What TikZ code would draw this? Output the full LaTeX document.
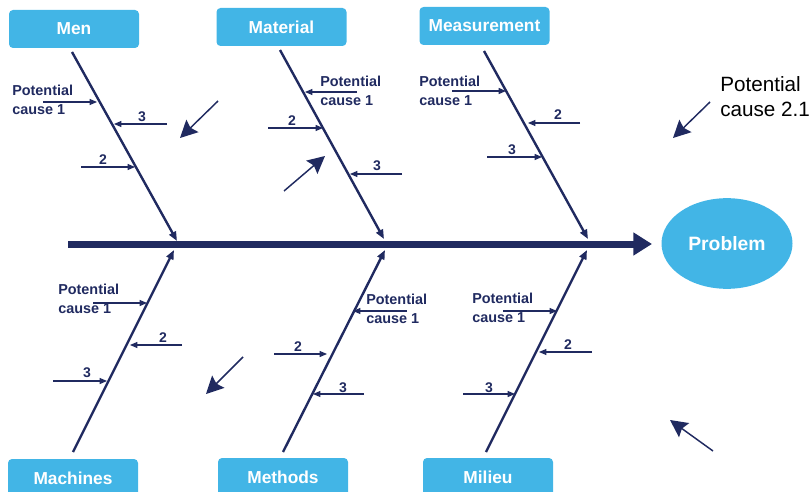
\documentclass[tikz,border=0pt]{standalone}
\usepackage{fontspec}
\setmainfont{Liberation Sans}
\usetikzlibrary{arrows.meta,shapes.geometric}
\definecolor{navy}{RGB}{32,42,96}
\definecolor{skyb}{RGB}{66,181,230}
\begin{document}
\begin{tikzpicture}[x=0.75pt,y=-0.75pt,
 catbox/.style={fill=skyb, rounded corners=3pt, minimum width=97.5pt, minimum height=28.5pt, text=white, font=\bfseries\fontsize{13}{15}\selectfont, inner sep=0pt},
 bone/.style={draw=navy, line width=1.8pt, -{Triangle[length=7pt,width=5.5pt]}},
 sub/.style={draw=navy, line width=0.8pt, -{Triangle[length=5.5pt,width=4.5pt]}},
 free/.style={draw=navy, line width=1.1pt, -{Stealth[length=13pt,width=13pt,inset=2pt]}},
 spine/.style={draw=navy, line width=5.25pt, -{Triangle[length=14pt,width=16.5pt]}},
 pc/.style={anchor=north west, inner sep=0pt, align=left, text=navy, font=\bfseries\fontsize{10.8}{14}\selectfont},
 num/.style={anchor=south, inner sep=0pt, text=navy, font=\bfseries\fontsize{10.5}{12}\selectfont},
]
\useasboundingbox (0,0) rectangle (811,492);

% category boxes
\node[catbox] (men) at (74,29) {Men};
\node[catbox] (material) at (281.5,27) {Material};
\node[catbox] (measure) at (484.5,26) {Measurement};
\node[catbox] (machines) at (73,478) {Machines};
\node[catbox] (methods) at (283,477) {Methods};
\node[catbox] (milieu) at (488,477) {Milieu};

% problem
\node[ellipse, fill=skyb, minimum width=98.25pt, minimum height=68pt, inner sep=0pt, text=white, font=\bfseries\fontsize{14.5}{16}\selectfont] (prob) at (727,243.5) {Problem};

% spine
\coordinate (s0) at (68,244);
\coordinate (s1) at (652,244);
\draw[spine] (s0) -- (s1);

% bones
\coordinate (menA) at (72,52);   \coordinate (menB) at (177,241);
\coordinate (matA) at (280,50);  \coordinate (matB) at (384,239);
\coordinate (meaA) at (484,51);  \coordinate (meaB) at (588,239);
\coordinate (macA) at (73,452);  \coordinate (macB) at (174,250);
\coordinate (metA) at (283,452); \coordinate (metB) at (385,250);
\coordinate (milA) at (486,452); \coordinate (milB) at (587,250);
\draw[bone] (menA) -- (menB);
\draw[bone] (matA) -- (matB);
\draw[bone] (meaA) -- (meaB);
\draw[bone] (macA) -- (macB);
\draw[bone] (metA) -- (metB);
\draw[bone] (milA) -- (milB);

% sub causes: Men
\coordinate (m1a) at (43,102);  \coordinate (m1b) at (97,102);
\coordinate (m3a) at (167,124); \coordinate (m3b) at (114,124);
\coordinate (m2a) at (81,167);  \coordinate (m2b) at (135,167);
\draw[sub] (m1a) -- (m1b);
\draw[sub] (m3a) -- (m3b);
\draw[sub] (m2a) -- (m2b);
\node[pc] (tmen) at (12,85) {Potential\\cause 1};
\node[num] (nm3) at (142,122) {3};
\node[num] (nm2) at (103,165) {2};

% Material
\coordinate (t1a) at (357,92);  \coordinate (t1b) at (305,92);
\coordinate (t2a) at (268,128); \coordinate (t2b) at (323,128);
\coordinate (t3a) at (402,174); \coordinate (t3b) at (350,174);
\draw[sub] (t1a) -- (t1b);
\draw[sub] (t2a) -- (t2b);
\draw[sub] (t3a) -- (t3b);
\node[pc] (tmat) at (320,76) {Potential\\cause 1};
\node[num] (nt2) at (292,126) {2};
\node[num] (nt3) at (377,171) {3};

% Measurement
\coordinate (e1a) at (452,91);  \coordinate (e1b) at (506,91);
\coordinate (e2a) at (580,123); \coordinate (e2b) at (528,123);
\coordinate (e3a) at (487,157); \coordinate (e3b) at (542,157);
\draw[sub] (e1a) -- (e1b);
\draw[sub] (e2a) -- (e2b);
\draw[sub] (e3a) -- (e3b);
\node[pc] (tmea) at (419,76) {Potential\\cause 1};
\node[num] (ne2) at (558,120) {2};
\node[num] (ne3) at (512,155) {3};

% Machines
\coordinate (c1a) at (93,303);  \coordinate (c1b) at (147,303);
\coordinate (c2a) at (182,345); \coordinate (c2b) at (130,345);
\coordinate (c3a) at (53,381);  \coordinate (c3b) at (107,381);
\draw[sub] (c1a) -- (c1b);
\draw[sub] (c2a) -- (c2b);
\draw[sub] (c3a) -- (c3b);
\node[pc] (tmac) at (58,284) {Potential\\cause 1};
\node[num] (nc2) at (163,343) {2};
\node[num] (nc3) at (87,378) {3};

% Methods
\coordinate (d1a) at (407,311); \coordinate (d1b) at (353,311);
\coordinate (d2a) at (274,354); \coordinate (d2b) at (327,354);
\coordinate (d3a) at (364,394); \coordinate (d3b) at (313,394);
\draw[sub] (d1a) -- (d1b);
\draw[sub] (d2a) -- (d2b);
\draw[sub] (d3a) -- (d3b);
\node[pc] (tmet) at (366,294) {Potential\\cause 1};
\node[num] (nd2) at (298,352) {2};
\node[num] (nd3) at (343,393) {3};

% Milieu
\coordinate (l1a) at (503,311); \coordinate (l1b) at (557,311);
\coordinate (l2a) at (592,352); \coordinate (l2b) at (539,352);
\coordinate (l3a) at (463,394); \coordinate (l3b) at (515,394);
\draw[sub] (l1a) -- (l1b);
\draw[sub] (l2a) -- (l2b);
\draw[sub] (l3a) -- (l3b);
\node[pc] (tmil) at (472,293) {Potential\\cause 1};
\node[num] (nl2) at (568,350) {2};
\node[num] (nl3) at (489,393) {3};

% free arrows
\coordinate (f1a) at (218,101); \coordinate (f1b) at (180,138);
\coordinate (f2a) at (284,191); \coordinate (f2b) at (325,156);
\coordinate (f3a) at (710,102); \coordinate (f3b) at (673,138);
\coordinate (f4a) at (243,357); \coordinate (f4b) at (206,394);
\coordinate (f5a) at (713,451); \coordinate (f5b) at (670,420);
\draw[free] (f1a) -- (f1b);
\draw[free] (f2a) -- (f2b);
\draw[free] (f3a) -- (f3b);
\draw[free] (f4a) -- (f4b);
\draw[free] (f5a) -- (f5b);

\node[anchor=north west, inner sep=0pt, align=left, font=\fontsize{15.5}{19}\selectfont] (pc21) at (720,76) {Potential\\cause 2.1};
\end{tikzpicture}
\end{document}
